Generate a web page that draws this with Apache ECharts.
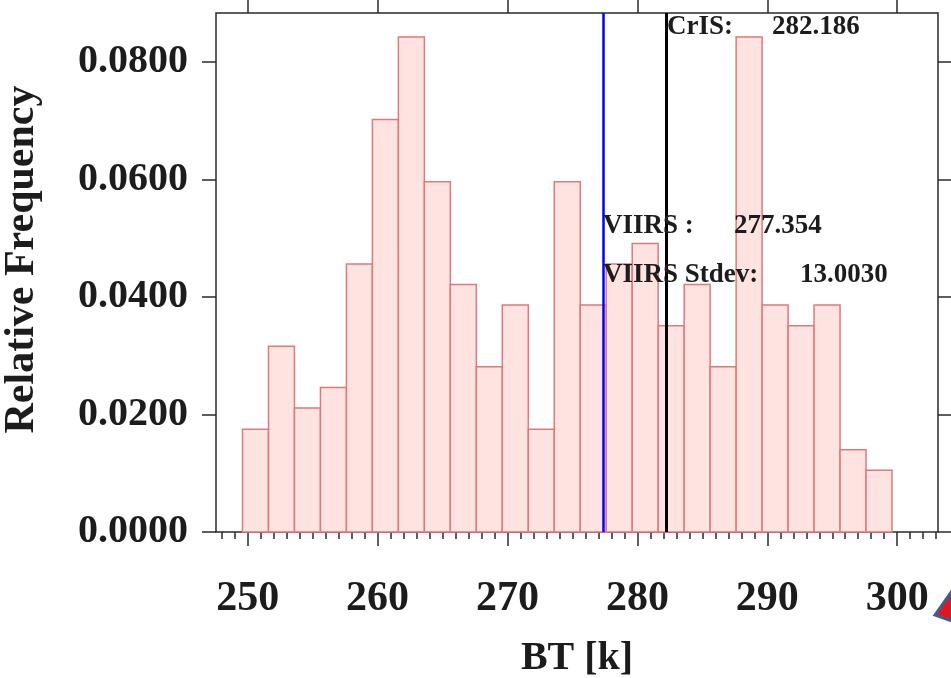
<!DOCTYPE html>
<html>
<head>
<meta charset="utf-8">
<style>
html, body { margin: 0; padding: 0; background: #fff; }
#chart { width: 951px; height: 678px; }
</style>
</head>
<body>
<div id="chart"></div>
<script src="https://cdn.jsdelivr.net/npm/echarts@6/dist/echarts.min.js"></script>
<script>
// histogram bins (BT in K), 2 K wide
const binStarts = [249.6, 251.6, 253.6, 255.6, 257.6, 259.6, 261.6, 263.6, 265.6, 267.6,
                   269.6, 271.6, 273.6, 275.6, 277.6, 279.6, 281.6, 283.6, 285.6, 287.6,
                   289.6, 291.6, 293.6, 295.6, 297.6];
const binWidth = 2;
const relFreq = [0.0175, 0.0316, 0.0211, 0.0246, 0.0456, 0.0702, 0.0842, 0.0596, 0.0421, 0.0281,
                 0.0386, 0.0175, 0.0596, 0.0386, 0.0456, 0.0491, 0.0351, 0.0421, 0.0281, 0.0842,
                 0.0386, 0.0351, 0.0386, 0.0140, 0.0105];

const xTicks = [250, 260, 270, 280, 290, 300];
const yTicks = [0, 0.02, 0.04, 0.06, 0.08];

const crisMean = 282.186;
const viirsMean = 277.354;
const viirsStdev = 13.0030;

// layout
const W = 951, H = 678;
const frameLeft = 216, frameRight = 938, frameTop = 13, frameBottom = 532;
const xMin = 247.56, xMax = 303.14, yMax = 0.0883;

function px(v) { return frameLeft + (v - xMin) * (frameRight - frameLeft) / (xMax - xMin); }
function py(v) { return frameBottom - v * (frameBottom - frameTop) / yMax; }

const serif = "'Liberation Serif', 'Times New Roman', serif";
const ink = '#1c1c1c';
const tickLine = { color: '#2a2a2a', width: 1.5 };

const bins = binStarts.map((s, i) => [s, s + binWidth, relFreq[i]]);

function renderBin(params, api) {
  const p0 = api.coord([api.value(0), api.value(2)]);
  const p1 = api.coord([api.value(1), 0]);
  return {
    type: 'rect',
    shape: { x: p0[0], y: p0[1], width: p1[0] - p0[0], height: p1[1] - p0[1] },
    style: { fill: '#ffe3e1', stroke: '#e07a7a', lineWidth: 1.5 }
  };
}

const hidden = { axisLine: { show: false }, axisTick: { show: false }, axisLabel: { show: false }, splitLine: { show: false } };

function makeGrid(left, right, top, extra) {
  return Object.assign({ left: left, right: right, top: top, bottom: H - frameBottom,
    containLabel: false, outerBoundsMode: 'none' }, extra || {});
}

const option = {
  animation: false,
  backgroundColor: '#fff',
  grid: [
    makeGrid(frameLeft, W - frameRight, frameTop,
      { show: true, borderColor: '#2a2a2a', borderWidth: 1.5, backgroundColor: 'transparent' }),
    makeGrid(px(xTicks[0]), W - px(xTicks[xTicks.length - 1]), frameTop),
    makeGrid(px(248), W - px(303), frameTop),
    makeGrid(frameLeft, W - frameRight, py(yTicks[yTicks.length - 1]))
  ],
  xAxis: [
    Object.assign({ gridIndex: 0, type: 'value', min: xMin, max: xMax,
      name: 'BT [k]', nameLocation: 'middle', nameGap: 107,
      nameTextStyle: { fontFamily: serif, fontWeight: 'bold', fontSize: 40, color: ink } }, hidden),
    { gridIndex: 1, type: 'value', position: 'bottom',
      min: xTicks[0], max: xTicks[xTicks.length - 1], interval: xTicks[1] - xTicks[0],
      axisLine: { show: false }, splitLine: { show: false },
      axisTick: { show: true, length: 14, lineStyle: tickLine },
      axisLabel: { margin: 46, fontFamily: serif, fontWeight: 'bold', fontSize: 42, color: ink } },
    { gridIndex: 1, type: 'value', position: 'top',
      min: xTicks[0], max: xTicks[xTicks.length - 1], interval: xTicks[1] - xTicks[0],
      axisLine: { show: false }, splitLine: { show: false }, axisLabel: { show: false },
      axisTick: { show: true, length: 13, lineStyle: tickLine } },
    { gridIndex: 2, type: 'value', position: 'bottom', min: 248, max: 303, interval: 1,
      axisLine: { show: false }, splitLine: { show: false }, axisLabel: { show: false },
      axisTick: { show: true, length: 7, lineStyle: tickLine } },
    { gridIndex: 3, type: 'value', show: false }
  ],
  yAxis: [
    Object.assign({ gridIndex: 0, type: 'value', min: 0, max: yMax,
      name: 'Relative Frequency', nameLocation: 'middle', nameGap: 173, nameRotate: 90,
      nameTextStyle: { fontFamily: serif, fontWeight: 'bold', fontSize: 42, color: ink, padding: [0, 0, 0, 26] } }, hidden),
    { gridIndex: 1, type: 'value', show: false },
    { gridIndex: 2, type: 'value', show: false },
    { gridIndex: 3, type: 'value', position: 'left',
      min: yTicks[0], max: yTicks[yTicks.length - 1], interval: yTicks[1] - yTicks[0],
      axisLine: { show: false }, splitLine: { show: false },
      axisTick: { show: true, length: 14, lineStyle: tickLine },
      axisLabel: { margin: 28, fontFamily: serif, fontWeight: 'bold', fontSize: 40, color: ink,
        formatter: v => v.toFixed(4) } },
    { gridIndex: 3, type: 'value', position: 'right',
      min: yTicks[0], max: yTicks[yTicks.length - 1], interval: yTicks[1] - yTicks[0],
      axisLine: { show: false }, splitLine: { show: false }, axisLabel: { show: false },
      axisTick: { show: true, length: 13, lineStyle: tickLine } }
  ],
  series: [
    {
      type: 'custom',
      xAxisIndex: 0, yAxisIndex: 0,
      encode: { x: [0, 1], y: 2 },
      data: bins,
      renderItem: renderBin,
      markLine: {
        silent: true,
        symbol: ['none', 'none'],
        label: { show: false },
        data: [
          { xAxis: viirsMean, lineStyle: { color: '#0000ff', width: 2.5, type: 'solid' } },
          { xAxis: crisMean, lineStyle: { color: '#000000', width: 3, type: 'solid' } }
        ]
      }
    }
  ],
  graphic: [
    { type: 'text', left: 667, top: 14, z: 10,
      style: { text: 'CrIS:', font: 'bold 27px ' + serif, fill: ink } },
    { type: 'text', left: 772, top: 14, z: 10,
      style: { text: crisMean.toFixed(3), font: 'bold 27px ' + serif, fill: ink } },
    { type: 'text', left: 603, top: 213, z: 10,
      style: { text: 'VIIRS :', font: 'bold 27px ' + serif, fill: ink } },
    { type: 'text', left: 734, top: 213, z: 10,
      style: { text: viirsMean.toFixed(3), font: 'bold 27px ' + serif, fill: ink } },
    { type: 'text', left: 603, top: 262, z: 10,
      style: { text: 'VIIRS Stdev:', font: 'bold 27px ' + serif, fill: ink } },
    { type: 'text', left: 800, top: 262, z: 10,
      style: { text: viirsStdev.toFixed(4), font: 'bold 27px ' + serif, fill: ink } },
    { type: 'polygon', z: 10,
      shape: { points: [[935, 615], [952, 591], [952, 621]] },
      style: { fill: '#e8141c', stroke: '#3d5d8a', lineWidth: 3 } }
  ]
};

const chart = echarts.init(document.getElementById('chart'));
chart.setOption(option);
</script>
</body>
</html>
